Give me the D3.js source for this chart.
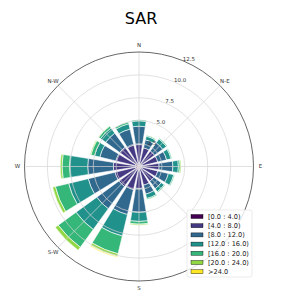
<!DOCTYPE html>
<html>
  <head>
    <meta charset="utf-8" />
    <title>SAR</title>
    <style>
      body { margin: 0; background: #fff; }
      text { font-family: "DejaVu Sans", sans-serif; }
    </style>
  </head>
  <body>
    <script src="https://cdnjs.cloudflare.com/ajax/libs/d3/7.8.5/d3.min.js"></script>
    <script>
      const width = 294;
      const height = 300;

      // 16 wind sectors, clockwise from north
      const directions = ["N", "NNE", "NE", "ENE", "E", "ESE", "SE", "SSE",
                          "S", "SSW", "SW", "WSW", "W", "WNW", "NW", "NNW"];
      const binLabels = ["[0.0 : 4.0)", "[4.0 : 8.0)", "[8.0 : 12.0)", "[12.0 : 16.0)",
                         "[16.0 : 20.0)", "[20.0 : 24.0)", ">24.0"];
      // frequency (%) of each speed bin per direction
      const bin0 = [0.4, 0.3, 0.3, 0.3, 0.3, 0.3, 0.3, 0.3, 0.4, 0.4, 0.4, 0.4, 0.4, 0.4, 0.4, 0.4];
      const bin1 = [2.0, 1.8, 1.8, 1.8, 1.9, 1.8, 1.7, 1.8, 2.0, 2.2, 2.3, 2.3, 2.4, 2.2, 2.2, 2.0];
      const bin2 = [2.0, 0.9, 1.1, 1.0, 1.5, 1.2, 1.0, 1.0, 2.6, 2.8, 3.0, 3.0, 2.8, 1.8, 1.9, 1.8];
      const bin3 = [0.6, 0.4, 0.5, 0.5, 0.6, 0.6, 0.4, 0.5, 1.0, 2.4, 2.8, 2.2, 2.0, 0.6, 0.7, 0.6];
      const bin4 = [0.1, 0.1, 0.1, 0.1, 0.2, 0.1, 0.1, 0.1, 0.3, 2.0, 2.4, 1.5, 0.8, 0.4, 0.25, 0.2];
      const bin5 = [0, 0, 0, 0, 0.1, 0, 0, 0, 0.1, 0.3, 0.4, 0.3, 0.2, 0.1, 0.05, 0];
      const bin6 = [0, 0, 0, 0, 0, 0, 0, 0, 0, 0.1, 0, 0, 0, 0, 0, 0];
      const bins = [bin0, bin1, bin2, bin3, bin4, bin5, bin6];

      const radialTicks = [2.5, 5.0, 7.5, 10.0, 12.5];
      // S-E sits under the legend in the original, so it is left out
      const compassLabels = ["N", "N-E", "E", null, "S", "S-W", "W", "N-W"];

      const cx = 139, cy = 166.5, R = 114.5;
      const colors = d3.range(7).map(i => d3.interpolateViridis(i / 6));

      const svg = d3.select("body").append("svg")
        .attr("width", width)
        .attr("height", height);

      svg.append("text")
        .attr("x", 141)
        .attr("y", 24)
        .attr("text-anchor", "middle")
        .attr("font-size", 16)
        .attr("fill", "#000")
        .text("SAR");

      const r = d3.scaleLinear().domain([0, 12.5]).range([0, R]);
      const theta = d3.scaleBand().domain(directions).range([0, 2 * Math.PI]);
      const step = theta.step();
      const opening = 0.8;

      const g = svg.append("g").attr("transform", `translate(${cx},${cy})`);

      // stacked segments
      const segs = [];
      directions.forEach((d, i) => {
        let base = 0;
        bins.forEach((b, k) => {
          if (b[i] > 0) segs.push({ dir: d, k: k, r0: base, r1: base + b[i] });
          base += b[i];
        });
      });

      const arc = d3.arc()
        .innerRadius(d => r(d.r0))
        .outerRadius(d => r(d.r1))
        .startAngle(d => theta(d.dir) - step * opening / 2)
        .endAngle(d => theta(d.dir) + step * opening / 2);

      g.selectAll("path.bar")
        .data(segs)
        .join("path")
        .attr("class", "bar")
        .attr("d", arc)
        .attr("fill", d => colors[d.k])
        .attr("stroke", "#fff")
        .attr("stroke-width", 0.6);

      // grid over bars (matplotlib draws grid above patches)
      g.selectAll("circle.grid")
        .data(radialTicks.slice(0, -1))
        .join("circle")
        .attr("class", "grid")
        .attr("r", d => r(d))
        .attr("fill", "none")
        .attr("stroke", "#d4d4d4")
        .attr("stroke-width", 0.7);

      g.selectAll("line.grid")
        .data(d3.range(8))
        .join("line")
        .attr("class", "grid")
        .attr("x1", 0).attr("y1", 0)
        .attr("x2", i => R * Math.sin(i * Math.PI / 4))
        .attr("y2", i => -R * Math.cos(i * Math.PI / 4))
        .attr("stroke", "#d4d4d4")
        .attr("stroke-width", 0.7);

      g.append("circle")
        .attr("r", R)
        .attr("fill", "none")
        .attr("stroke", "#555")
        .attr("stroke-width", 0.9);

      // radial tick labels
      const ra = Math.PI / 8;
      g.selectAll("text.rtick")
        .data(radialTicks)
        .join("text")
        .attr("class", "rtick")
        .attr("x", d => r(d) * Math.sin(ra))
        .attr("y", d => -r(d) * Math.cos(ra))
        .attr("font-size", 5.5)
        .attr("fill", "#333")
        .text(d => d.toFixed(1));

      // compass labels
      g.selectAll("text.comp")
        .data(compassLabels.map((d, i) => ({ label: d, i: i })).filter(d => d.label))
        .join("text")
        .attr("class", "comp")
        .attr("x", d => (R + 7) * Math.sin(d.i * Math.PI / 4))
        .attr("y", d => -(R + 7) * Math.cos(d.i * Math.PI / 4))
        .attr("dy", "0.35em")
        .attr("text-anchor", "middle")
        .attr("font-size", 5.5)
        .attr("fill", "#333")
        .text(d => d.label);

      // legend
      const lg = svg.append("g").attr("transform", "translate(187,210)");
      lg.append("rect")
        .attr("width", 65)
        .attr("height", 67)
        .attr("rx", 2)
        .attr("fill", "#fff")
        .attr("fill-opacity", 0.8)
        .attr("stroke", "#ddd")
        .attr("stroke-width", 0.6);

      const rows = lg.selectAll("g.row")
        .data(binLabels)
        .join("g")
        .attr("class", "row")
        .attr("transform", (d, i) => `translate(4,${6.5 + i * 9.2})`);

      rows.append("rect")
        .attr("x", 0)
        .attr("y", -2)
        .attr("width", 12)
        .attr("height", 4)
        .attr("fill", (d, i) => colors[i])
        .attr("stroke", "#000")
        .attr("stroke-width", 0.4);

      rows.append("text")
        .attr("x", 17)
        .attr("dy", "0.35em")
        .attr("font-size", 6.6)
        .attr("fill", "#222")
        .text(d => d);
    </script>
  </body>
</html>
